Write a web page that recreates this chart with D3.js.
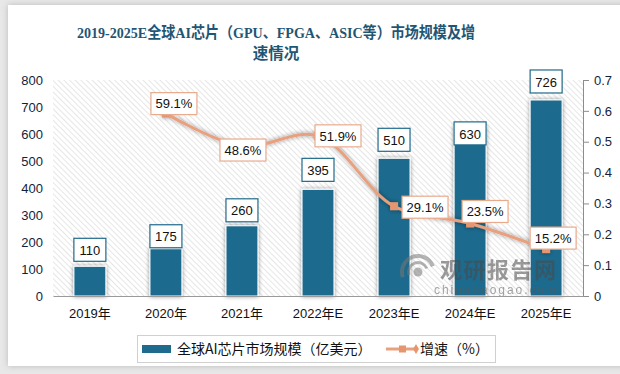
<!DOCTYPE html>
<html>
<head>
<meta charset="utf-8">
<script src="https://cdn.jsdelivr.net/npm/d3@7"></script>
<style>
  html, body { margin: 0; padding: 0; background: #e8e8e8; }
  svg { display: block; }
  text { font-family: "Liberation Sans", Arial, "Noto Sans CJK SC", sans-serif; }
</style>
</head>
<body>
<svg id="chart" width="620" height="374"></svg>
<script>
// chart data
const years = ['2019年', '2020年', '2021年', '2022年E', '2023年E', '2024年E', '2025年E'];
const marketSize = [110, 175, 260, 395, 510, 630, 726];
const growth = [null, 0.591, 0.486, 0.519, 0.291, 0.235, 0.152];
const growthLabels = ['', '59.1%', '48.6%', '51.9%', '29.1%', '23.5%', '15.2%'];
const leftTicks = [0, 100, 200, 300, 400, 500, 600, 700, 800];
const rightTicks = [0, 0.1, 0.2, 0.3, 0.4, 0.5, 0.6, 0.7];

// label nudges (px), picked by eye from the reference
const barLabelGap = [4, 0, 3, 7, 6, -20, 6];
const lineLabelShift = [null, [8, -10], [1, 4], [20, 0], [31, 1], [15, -12], [7, -11]];

const barColor = '#1e6b8d';
const lineColor = '#e9a07e';
const titleColor = '#1f5673';

const svg = d3.select('#chart');
const plot = { left: 53, right: 583, top: 80, bottom: 296 };

const defs = svg.append('defs');

// diagonal hatch for the plot background
const hatch = defs.append('pattern')
    .attr('id', 'hatch')
    .attr('width', 4)
    .attr('height', 4)
    .attr('patternUnits', 'userSpaceOnUse')
    .attr('patternTransform', 'rotate(-45)');
hatch.append('rect').attr('width', 4).attr('height', 4).attr('fill', '#fff');
hatch.append('line')
    .attr('x1', 0).attr('y1', 0).attr('x2', 0).attr('y2', 4)
    .attr('stroke', '#d2d2d2').attr('stroke-width', 1.1);

const glow = defs.append('filter').attr('id', 'glow')
    .attr('x', '-30%').attr('y', '-30%').attr('width', '160%').attr('height', '160%');
glow.append('feDropShadow')
    .attr('dx', 0).attr('dy', 0).attr('stdDeviation', 2.2)
    .attr('flood-color', '#000').attr('flood-opacity', 0.45);

const cardShadow = defs.append('filter').attr('id', 'card')
    .attr('x', '-5%').attr('y', '-5%').attr('width', '110%').attr('height', '110%');
cardShadow.append('feDropShadow')
    .attr('dx', 0).attr('dy', 0).attr('stdDeviation', 3)
    .attr('flood-color', '#000').attr('flood-opacity', 0.2);

// card
svg.append('rect')
    .attr('x', 8).attr('y', 5).attr('width', 620).attr('height', 361)
    .attr('fill', '#fff')
    .attr('filter', 'url(#card)');

// title
const title = svg.append('text')
    .attr('text-anchor', 'middle')
    .attr('fill', titleColor)
    .attr('font-size', 15.5)
    .attr('font-weight', 'bold')
    .style('font-family', '"Liberation Serif", "Noto Sans CJK SC", serif');
title.append('tspan').attr('x', 276).attr('y', 38)
    .attr('textLength', 398)
    .attr('lengthAdjust', 'spacingAndGlyphs')
    .text('2019-2025E全球AI芯片（GPU、FPGA、ASIC等）市场规模及增');
title.append('tspan').attr('x', 276).attr('y', 59).text('速情况');

// scales
const x = d3.scaleBand()
    .domain(years)
    .range([plot.left, plot.right])
    .paddingInner(0.58)
    .paddingOuter(0.275);
const yLeft = d3.scaleLinear().domain([0, 800]).range([plot.bottom, plot.top]);
const yRight = d3.scaleLinear().domain([0, 0.7]).range([plot.bottom, plot.top]);

// plot background
svg.append('rect')
    .attr('x', plot.left).attr('y', plot.top)
    .attr('width', plot.right - plot.left)
    .attr('height', plot.bottom - plot.top)
    .attr('fill', 'url(#hatch)');

// left axis labels
svg.append('g')
    .attr('transform', `translate(${plot.left},0)`)
    .call(d3.axisLeft(yLeft).tickValues(leftTicks).tickSize(0).tickPadding(10))
    .call(g => g.select('.domain').remove())
    .call(g => g.selectAll('text')
        .attr('font-size', 13)
        .attr('fill', '#141e3c')
        .style('font-family', '"Liberation Sans", Arial, sans-serif'));

// right axis
svg.append('g')
    .attr('transform', `translate(${plot.right},0)`)
    .call(d3.axisRight(yRight).tickValues(rightTicks).tickSize(6).tickPadding(5)
        .tickFormat(d => d === 0 ? '0' : d3.format('.1f')(d)))
    .call(g => g.select('.domain').attr('stroke', '#8c8c8c'))
    .call(g => g.selectAll('line').attr('stroke', '#8c8c8c'))
    .call(g => g.selectAll('text')
        .attr('font-size', 13)
        .attr('fill', '#141e3c')
        .style('font-family', '"Liberation Sans", Arial, sans-serif'));

// bars
svg.append('g').selectAll('rect')
    .data(marketSize)
    .join('rect')
    .attr('x', (d, i) => x(years[i]))
    .attr('y', d => yLeft(d))
    .attr('width', x.bandwidth())
    .attr('height', d => yLeft(0) - yLeft(d))
    .attr('fill', barColor)
    .attr('stroke', '#fff')
    .attr('stroke-width', 1)
    .attr('filter', 'url(#glow)');

// watermark sits over the bars
const wm = svg.append('g').attr('opacity', 0.55);
wm.append('text')
    .attr('x', 440).attr('y', 278)
    .attr('font-size', 22).attr('font-weight', 'bold')
    .attr('fill', '#4a4a4a')
    .attr('textLength', 116)
    .style('font-family', '"Noto Sans CJK SC", sans-serif')
    .text('观研报告网');
wm.append('text')
    .attr('x', 434).attr('y', 294)
    .attr('font-size', 12)
    .attr('fill', '#5a5a5a')
    .attr('textLength', 122)
    .text('chinabaogao.com');
const arc = d3.arc();
[[14, 18], [8, 11]].forEach(([r0, r1]) => {
    wm.append('path')
        .attr('transform', 'translate(418,272)')
        .attr('d', arc({ innerRadius: r0, outerRadius: r1, startAngle: -1.9, endAngle: 1.2 }))
        .attr('fill', '#777');
});
wm.append('circle').attr('cx', 418).attr('cy', 272).attr('r', 4.5).attr('fill', '#777');

// bottom axis
svg.append('g')
    .attr('transform', `translate(0,${plot.bottom})`)
    .call(d3.axisBottom(x).tickSize(0).tickPadding(13))
    .call(g => g.select('.domain').attr('stroke', '#9a9a9a').attr('stroke-width', 1.2))
    .call(g => g.selectAll('text')
        .attr('font-size', 13)
        .attr('fill', '#111')
        .style('font-family', '"Liberation Sans", Arial, "Noto Sans CJK SC", sans-serif'));

// bar value labels
const barLabel = svg.append('g').selectAll('g')
    .data(marketSize)
    .join('g')
    .attr('transform', (d, i) => {
        const cx = x(years[i]) + x.bandwidth() / 2;
        const bottom = yLeft(d) - barLabelGap[i];
        return `translate(${cx},${bottom - 12})`;
    });
barLabel.append('rect')
    .attr('x', -16).attr('y', -12)
    .attr('width', 32).attr('height', 23)
    .attr('fill', '#fff')
    .attr('stroke', '#1f6a8a')
    .attr('stroke-width', 1.2);
barLabel.append('text')
    .attr('text-anchor', 'middle')
    .attr('dy', '0.36em')
    .attr('font-size', 13)
    .attr('fill', '#111')
    .text(d => d);

// growth line
const pts = growth
    .map((g, i) => ({ i, g }))
    .filter(p => p.g !== null);
const line = d3.line()
    .x(p => x(years[p.i]) + x.bandwidth() / 2)
    .y(p => yRight(p.g))
    .curve(d3.curveCatmullRom.alpha(0.5));

const lineG = svg.append('g').attr('filter', 'url(#glow)');
lineG.append('path')
    .datum(pts)
    .attr('d', line)
    .attr('fill', 'none')
    .attr('stroke', lineColor)
    .attr('stroke-width', 3);
lineG.selectAll('rect')
    .data(pts)
    .join('rect')
    .attr('x', p => x(years[p.i]) + x.bandwidth() / 2 - 4)
    .attr('y', p => yRight(p.g) - 4)
    .attr('width', 8).attr('height', 8)
    .attr('fill', '#e5966f');

// growth labels
const lineLabel = svg.append('g').selectAll('g')
    .data(pts)
    .join('g')
    .attr('transform', p => {
        const [dx, dy] = lineLabelShift[p.i];
        return `translate(${x(years[p.i]) + x.bandwidth() / 2 + dx},${yRight(p.g) + dy})`;
    });
lineLabel.append('rect')
    .attr('x', -23).attr('y', -11)
    .attr('width', 46).attr('height', 22)
    .attr('fill', '#fff')
    .attr('stroke', '#e9aa8c')
    .attr('stroke-width', 1.2);
lineLabel.append('text')
    .attr('text-anchor', 'middle')
    .attr('dy', '0.36em')
    .attr('font-size', 13)
    .attr('fill', '#111')
    .text(p => growthLabels[p.i]);

// legend
const legend = svg.append('g');
legend.append('rect')
    .attr('x', 137.5).attr('y', 335.5)
    .attr('width', 358).attr('height', 27)
    .attr('fill', '#fff')
    .attr('stroke', '#d0d0d0');
legend.append('rect')
    .attr('x', 142).attr('y', 345)
    .attr('width', 29).attr('height', 8)
    .attr('fill', barColor);
legend.append('text')
    .attr('x', 177).attr('y', 354)
    .attr('font-size', 14)
    .attr('fill', '#111')
    .style('font-family', '"Noto Sans CJK SC", sans-serif')
    .text('全球AI芯片市场规模（亿美元）');
legend.append('line')
    .attr('x1', 386).attr('x2', 418)
    .attr('y1', 349).attr('y2', 349)
    .attr('stroke', lineColor).attr('stroke-width', 3);
legend.append('rect')
    .attr('x', 399).attr('y', 345.5).attr('width', 7).attr('height', 7)
    .attr('fill', '#e5966f');
legend.append('path')
    .attr('d', d3.symbol(d3.symbolDiamond, 30)())
    .attr('transform', 'translate(416,349)')
    .attr('fill', '#e5966f');
legend.append('text')
    .attr('x', 420).attr('y', 354)
    .attr('font-size', 14)
    .attr('fill', '#111')
    .style('font-family', '"Noto Sans CJK SC", sans-serif')
    .text('增速（%）');
</script>
</body>
</html>
